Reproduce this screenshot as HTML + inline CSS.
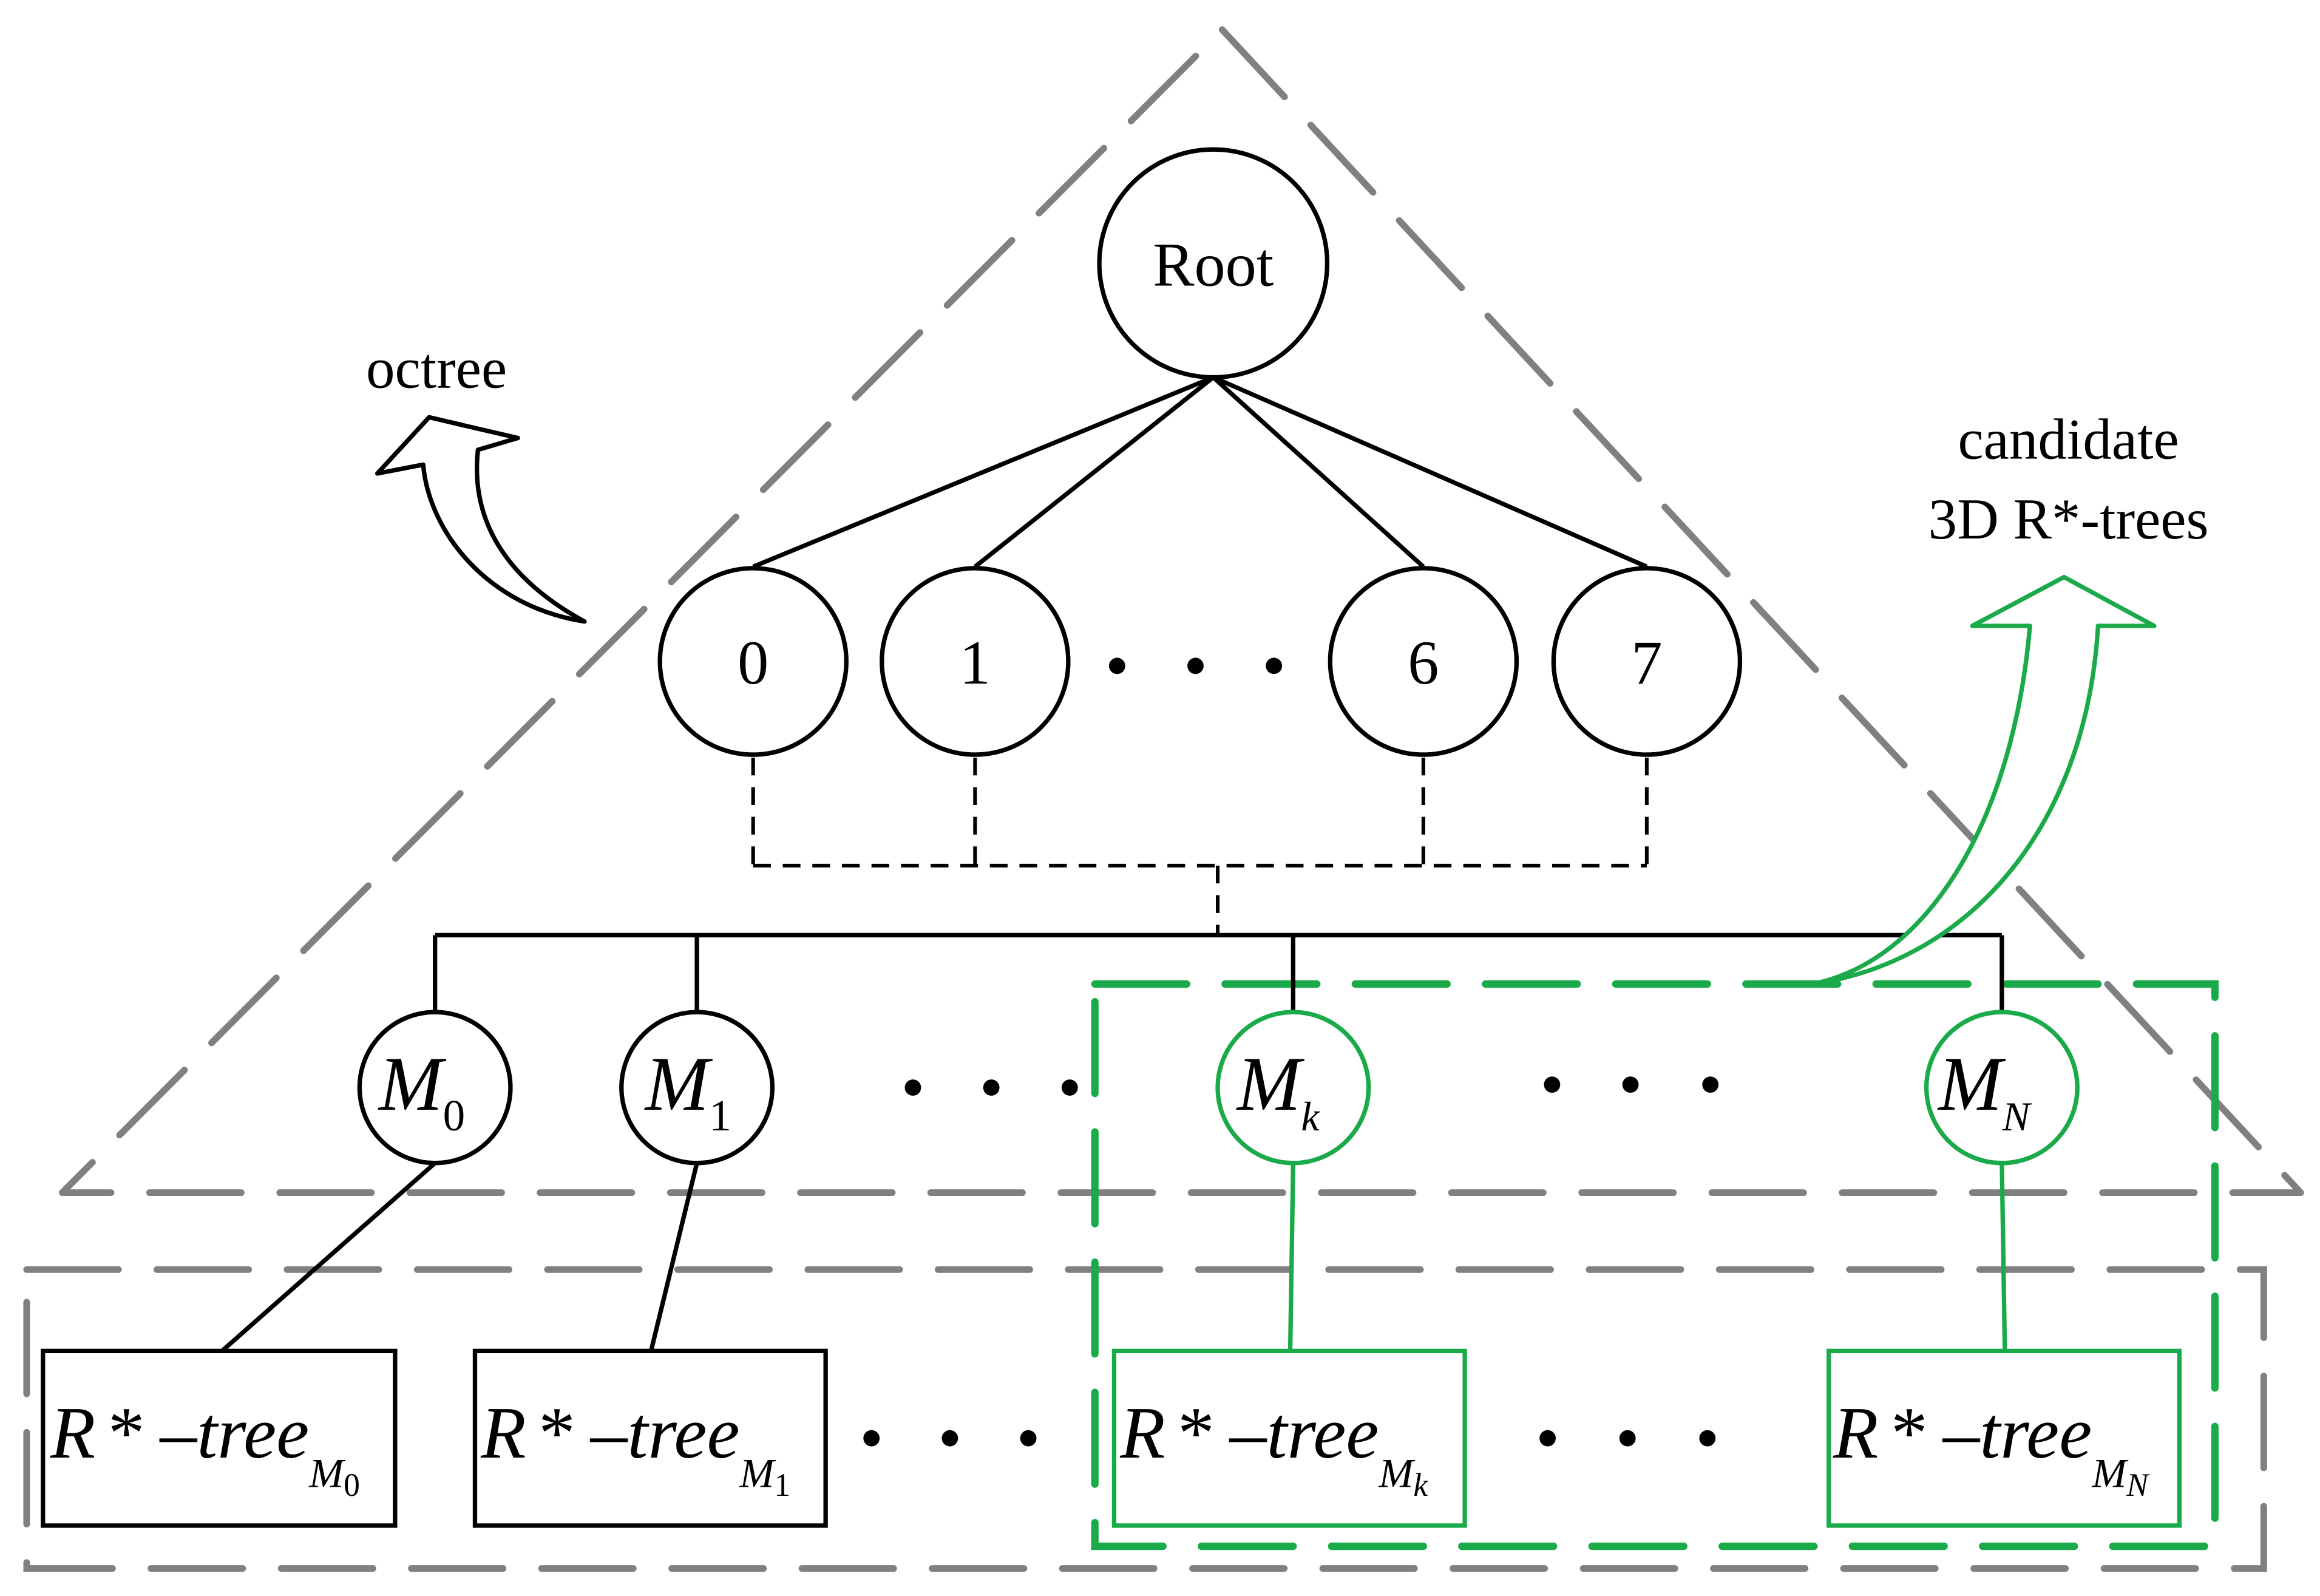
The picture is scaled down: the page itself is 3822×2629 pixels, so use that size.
<!DOCTYPE html>
<html><head><style>html,body{margin:0;padding:0;background:#fff}svg{display:block}</style></head>
<body>
<svg width="3822" height="2629" viewBox="0 0 1568 1078.6" xmlns="http://www.w3.org/2000/svg" font-family="'Liberation Serif', serif">
<rect width="1568" height="1078.6" fill="#fff"/>
<path d="M826 20 L1555 806 L42 806 Z" fill="none" stroke="#808080" stroke-width="4.5" stroke-dasharray="62 26" stroke-linecap="round" stroke-linejoin="round"/>
<rect x="18" y="858" width="1512" height="202" fill="none" stroke="#808080" stroke-width="4.5" stroke-dasharray="62 26" stroke-linecap="round"/>
<rect x="740" y="665" width="757" height="380" fill="none" stroke="#1aaa4a" stroke-width="5" stroke-dasharray="62 26" stroke-linecap="round"/>

<g stroke="#000" stroke-width="3" fill="none">
<line x1="820" y1="255" x2="509" y2="383"/>
<line x1="820" y1="255" x2="659" y2="383"/>
<line x1="820" y1="255" x2="962" y2="383"/>
<line x1="820" y1="255" x2="1113" y2="383"/>
<circle cx="820" cy="178" r="77" fill="#fff"/>
<circle cx="509" cy="447" r="63" fill="#fff"/>
<circle cx="659" cy="447" r="63" fill="#fff"/>
<circle cx="962" cy="447" r="63" fill="#fff"/>
<circle cx="1113" cy="447" r="63" fill="#fff"/>
<g stroke-dasharray="12 8" stroke-width="2.5">
<line x1="509" y1="512" x2="509" y2="585"/>
<line x1="659" y1="512" x2="659" y2="585"/>
<line x1="962" y1="512" x2="962" y2="585"/>
<line x1="1113" y1="512" x2="1113" y2="585"/>
<line x1="509" y1="585" x2="1113" y2="585"/>
<line x1="823" y1="585" x2="823" y2="632"/>
</g>
<line x1="294" y1="632" x2="1353" y2="632"/>
<line x1="294" y1="632" x2="294" y2="684"/>
<line x1="471" y1="632" x2="471" y2="684"/>
<line x1="874" y1="632" x2="874" y2="684"/>
<line x1="1353" y1="632" x2="1353" y2="684"/>
<circle cx="294" cy="735" r="51" fill="#fff"/>
<circle cx="471" cy="735" r="51" fill="#fff"/>
<line x1="294" y1="786" x2="150" y2="913"/>
<line x1="471" y1="786" x2="440" y2="913"/>
<rect x="29" y="913" width="238" height="118"/>
<rect x="321" y="913" width="237" height="118"/>
</g>
<g stroke="#1aaa4a" stroke-width="3" fill="none">
<circle cx="874" cy="735" r="51" fill="#fff"/>
<circle cx="1353" cy="735" r="51" fill="#fff"/>
<line x1="874" y1="786" x2="872" y2="913"/>
<line x1="1353" y1="786" x2="1355" y2="913"/>
<rect x="753" y="913" width="237" height="118"/>
<rect x="1236" y="913" width="237" height="118"/>
</g>
<g fill="#000">
<circle cx="755" cy="450" r="5.5"/><circle cx="808" cy="450" r="5.5"/><circle cx="861" cy="450" r="5.5"/>
<circle cx="617" cy="735" r="5.5"/><circle cx="670" cy="735" r="5.5"/><circle cx="723" cy="735" r="5.5"/>
<circle cx="1049" cy="733" r="5.5"/><circle cx="1102" cy="733" r="5.5"/><circle cx="1156" cy="733" r="5.5"/>
<circle cx="589" cy="972" r="5.5"/><circle cx="642" cy="972" r="5.5"/><circle cx="695" cy="972" r="5.5"/>
<circle cx="1046" cy="972" r="5.5"/><circle cx="1100" cy="972" r="5.5"/><circle cx="1154" cy="972" r="5.5"/>
</g>
<g font-size="42" text-anchor="middle" fill="#000">
<text x="820" y="193">Root</text>
<text x="509" y="462">0</text>
<text x="659" y="462">1</text>
<text x="962" y="462">6</text>
<text x="1113" y="462">7</text>
<text x="295" y="262" font-size="39">octree</text>
<text x="1398" y="310" font-size="39">candidate</text>
<text x="1398" y="364" font-size="39">3D R*-trees</text>
</g>
<g font-size="52" font-style="italic">
<text x="256" y="750">M<tspan font-size="30" font-style="normal" dy="14">0</tspan></text>
<text x="436" y="750">M<tspan font-size="30" font-style="normal" dy="14">1</tspan></text>
<text x="836" y="750">M<tspan font-size="28" dy="14">k</tspan></text>
<text x="1310" y="750">M<tspan font-size="28" dy="14">N</tspan></text>
</g>
<g font-size="50" font-style="italic">
<text x="34" y="985">R<tspan dx="6">*</tspan> –tree<tspan font-size="28" dy="20">M</tspan><tspan font-size="22" font-style="normal" dy="6">0</tspan></text>
<text x="325" y="985">R<tspan dx="6">*</tspan> –tree<tspan font-size="28" dy="20">M</tspan><tspan font-size="22" font-style="normal" dy="6">1</tspan></text>
<text x="757" y="985">R<tspan dx="6">*</tspan> –tree<tspan font-size="28" dy="20">M</tspan><tspan font-size="22" dy="6">k</tspan></text>
<text x="1239" y="985">R<tspan dx="6">*</tspan> –tree<tspan font-size="28" dy="20">M</tspan><tspan font-size="22" dy="6">N</tspan></text>
</g>
<path d="M395 420 C330 410 290 360 286 314 L255 320 L290 282 L350 296 L323 304 C318 350 340 390 395 420 Z" fill="#fff" stroke="#000" stroke-width="3" stroke-linejoin="round"/>
<path d="M1225 665 C1300 650 1360 560 1372 423 L1333 423 L1395 390 L1456 423 L1418 423 C1410 560 1330 650 1225 665 Z" fill="#fff" stroke="#1aaa4a" stroke-width="3" stroke-linejoin="round"/>
</svg>
</body></html>
